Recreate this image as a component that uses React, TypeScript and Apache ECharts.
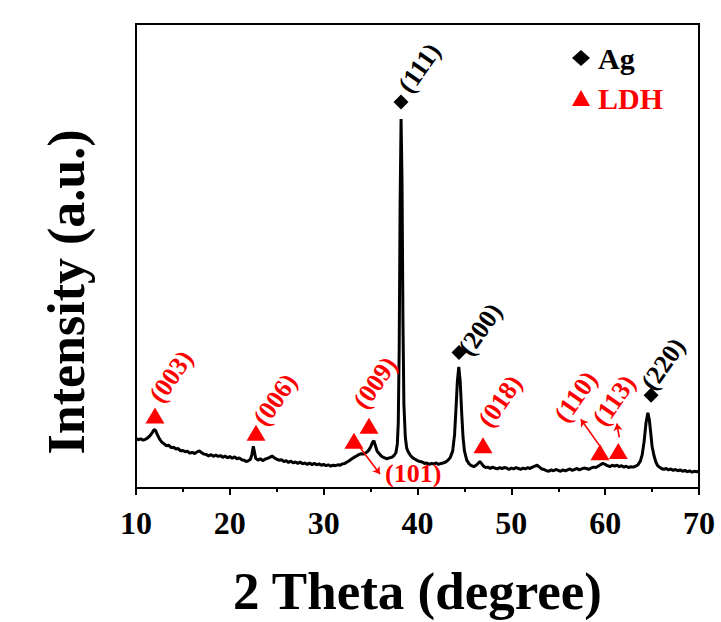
import React, { useEffect, useRef } from "react";
import * as echarts from "echarts";

// XRD pattern: [2theta, intensity (a.u.)]
const xrdPattern: number[][] = [
  [10.0, 10.7], [10.25, 10.4], [10.5, 10.6], [10.75, 10.3], [11.0, 10.5], [11.25, 10.8], [11.5, 11.3],
  [11.75, 12.0], [11.9, 12.5], [12.0, 12.6], [12.1, 12.3], [12.25, 11.6], [12.5, 10.6], [12.75, 9.9],
  [13.0, 9.5], [13.25, 9.1], [13.5, 9.2], [13.75, 8.7], [14.0, 8.8], [14.25, 8.4], [14.5, 8.5],
  [14.75, 8.0], [15.0, 8.1], [15.25, 7.8], [15.5, 7.9], [15.75, 7.5], [16.0, 7.7], [16.25, 7.4],
  [16.5, 7.8], [16.75, 8.0], [17.0, 7.6], [17.25, 7.3], [17.5, 7.2], [17.75, 6.9], [18.0, 7.2],
  [18.25, 6.8], [18.5, 7.1], [18.75, 6.8], [19.0, 7.0], [19.25, 6.6], [19.5, 6.9], [19.75, 6.5],
  [20.0, 6.8], [20.25, 6.4], [20.5, 6.7], [20.75, 6.3], [21.0, 6.5], [21.25, 6.1], [21.5, 6.0],
  [21.75, 5.7], [22.0, 5.9], [22.2, 6.2], [22.35, 7.2], [22.5, 9.0], [22.6, 8.0], [22.75, 6.4],
  [23.0, 6.0], [23.25, 6.3], [23.5, 5.9], [23.75, 6.2], [24.0, 6.4], [24.25, 6.6], [24.5, 6.9],
  [24.75, 6.5], [25.0, 6.2], [25.25, 6.0], [25.5, 6.1], [25.75, 5.7], [26.0, 5.9], [26.25, 5.5],
  [26.5, 5.8], [26.75, 5.4], [27.0, 5.6], [27.25, 5.3], [27.5, 5.6], [27.75, 5.2], [28.0, 5.4],
  [28.25, 5.1], [28.5, 5.4], [28.75, 5.0], [29.0, 5.3], [29.25, 5.0], [29.5, 5.2], [29.75, 4.9],
  [30.0, 5.1], [30.25, 4.8], [30.5, 5.0], [30.75, 4.7], [31.0, 4.9], [31.25, 4.8], [31.5, 5.0],
  [31.75, 4.9], [32.0, 5.2], [32.25, 5.3], [32.5, 5.6], [32.75, 5.9], [33.0, 6.3], [33.25, 6.6],
  [33.5, 6.9], [33.75, 7.2], [34.0, 7.4], [34.25, 7.3], [34.5, 7.6], [34.75, 8.0], [35.0, 8.8],
  [35.2, 9.8], [35.35, 10.2], [35.5, 9.2], [35.7, 7.9], [36.0, 7.2], [36.25, 6.7], [36.5, 6.5],
  [36.75, 6.3], [37.0, 6.5], [37.25, 6.6], [37.5, 7.0], [37.7, 7.6], [37.85, 9.5], [37.95, 14],
  [38.05, 30], [38.15, 62], [38.25, 79.5], [38.35, 66], [38.45, 36], [38.55, 18], [38.7, 11],
  [38.85, 8.6], [39.0, 7.8], [39.25, 7.0], [39.5, 6.5], [39.75, 6.2], [40.0, 5.9], [40.25, 5.7],
  [40.5, 5.6], [40.75, 5.3], [41.0, 5.4], [41.25, 5.1], [41.5, 5.3], [41.75, 5.2], [42.0, 5.4],
  [42.25, 5.1], [42.5, 5.3], [42.75, 5.4], [43.0, 5.6], [43.25, 6.0], [43.5, 6.6], [43.75, 8.0],
  [43.95, 11.5], [44.1, 17], [44.25, 23], [44.4, 26.1], [44.55, 23], [44.7, 16.5], [44.85, 11],
  [45.0, 8.0], [45.25, 6.0], [45.5, 5.2], [45.75, 4.8], [46.0, 4.6], [46.25, 4.9], [46.5, 5.4],
  [46.65, 5.7], [46.85, 5.2], [47.0, 4.8], [47.25, 4.4], [47.5, 4.5], [47.75, 4.2], [48.0, 4.5],
  [48.25, 4.3], [48.5, 4.1], [48.75, 4.4], [49.0, 4.2], [49.25, 4.4], [49.5, 4.3], [49.75, 4.0],
  [50.0, 4.3], [50.25, 4.1], [50.5, 4.4], [50.75, 4.2], [51.0, 4.0], [51.25, 4.3], [51.5, 4.1],
  [51.75, 4.4], [52.0, 4.2], [52.25, 4.5], [52.5, 4.7], [52.75, 4.9], [53.0, 4.5], [53.25, 4.1],
  [53.5, 4.0], [53.75, 3.7], [54.0, 3.6], [54.25, 3.9], [54.5, 3.7], [54.75, 4.0], [55.0, 3.8],
  [55.25, 3.6], [55.5, 3.9], [55.75, 3.7], [56.0, 3.9], [56.25, 4.1], [56.5, 3.8], [56.75, 4.0],
  [57.0, 4.2], [57.25, 3.9], [57.5, 4.1], [57.75, 4.3], [58.0, 4.2], [58.25, 4.0], [58.5, 4.3],
  [58.75, 4.5], [59.0, 4.4], [59.25, 4.7], [59.5, 5.0], [59.75, 5.3], [60.0, 5.1], [60.25, 4.8],
  [60.5, 4.6], [60.75, 4.9], [61.0, 4.7], [61.25, 4.9], [61.5, 4.6], [61.75, 4.8], [62.0, 4.5],
  [62.25, 4.7], [62.5, 4.4], [62.75, 4.6], [63.0, 4.5], [63.25, 4.7], [63.5, 5.0], [63.75, 5.8],
  [63.95, 7.2], [64.15, 10.0], [64.35, 14.0], [64.55, 16.2], [64.7, 14.8], [64.85, 12.0], [65.0, 9.0],
  [65.2, 7.0], [65.4, 5.6], [65.6, 4.8], [65.85, 4.4], [66.0, 4.2], [66.25, 4.0], [66.5, 4.2],
  [66.75, 3.9], [67.0, 4.1], [67.25, 3.8], [67.5, 4.0], [67.75, 3.7], [68.0, 3.9], [68.25, 3.6],
  [68.5, 3.8], [68.75, 3.5], [69.0, 3.7], [69.25, 3.4], [69.5, 3.6], [69.75, 3.5], [70.0, 3.6],
];

// Ag reflections
const agNames = ["(111)", "(200)", "(220)"];
const agPeaks: number[][] = [[38.24, 83.2], [44.42, 29.2], [64.89, 20.0]];

// LDH reflections
const ldhNames = ["(003)", "(006)", "(101)", "(009)", "(018)", "(110)", "(113)"];
const ldhPeaks: number[][] = [
  [12.02, 15.6], [22.79, 11.9], [33.23, 10.2], [34.83, 13.4], [46.98, 9.2], [59.45, 7.7], [61.4, 8.0],
];

// arrows linking crowded labels to their markers: [from, to]
const arrowLinks: number[][][] = [
  [[33.55, 9.6], [36.0, 3.0]],
  [[59.56, 8.7], [57.4, 14.8]],
  [[61.5, 10.9], [61.25, 13.9]],
];

const xTicks = [10, 20, 30, 40, 50, 60, 70];

const SERIF = "'Times New Roman', 'Liberation Serif', serif";
const RED = "#f00";

// label placement: pixel offset of the text's start (left-middle) from its marker, rotation (deg)
const labelStyle: Record<string, { dx: number; dy: number; rot: number }> = {
  "(111)": { dx: 3, dy: -12, rot: 55 },
  "(200)": { dx: 5, dy: 0, rot: 55 },
  "(220)": { dx: -4, dy: -8, rot: 55 },
  "(003)": { dx: 0, dy: -16, rot: 55 },
  "(006)": { dx: 3, dy: -10, rot: 55 },
  "(101)": { dx: 31, dy: 33, rot: 0 },
  "(009)": { dx: -10, dy: -20, rot: 55 },
  "(018)": { dx: 1, dy: -21, rot: 55 },
  "(110)": { dx: -40, dy: -33, rot: 55 },
  "(113)": { dx: -20, dy: -28, rot: 55 },
};

export default function App() {
  const ref = useRef<HTMLDivElement>(null);
  useEffect(() => {
    if (!ref.current) return;
    const chart = echarts.init(ref.current, undefined, { renderer: "svg" });
    const option: any = {
      animation: false,
      backgroundColor: "#fff",
      grid: {
        left: 136, right: 22, top: 24, bottom: 129,
        show: true, borderColor: "#000", borderWidth: 2,
      },
      legend: {
        orient: "vertical",
        left: 567,
        top: 38,
        itemWidth: 18,
        itemHeight: 16,
        itemGap: 10,
        textStyle: { fontFamily: SERIF, fontWeight: "bold", fontSize: 30, padding: [0, 0, 0, 3] },
        data: [
          { name: "Ag", textStyle: { color: "#000" } },
          { name: "LDH", textStyle: { color: RED } },
        ],
      },
      xAxis: {
        type: "value",
        min: xTicks[0],
        max: xTicks[xTicks.length - 1],
        interval: 10,
        name: "2 Theta (degree)",
        nameLocation: "middle",
        nameGap: 76,
        nameTextStyle: { fontFamily: SERIF, fontWeight: "bold", fontSize: 53, color: "#000" },
        axisLine: { lineStyle: { color: "#000", width: 2 } },
        axisTick: { show: true, inside: false, length: 7, lineStyle: { color: "#000", width: 2 } },
        minorTick: { show: true, splitNumber: 2, length: 4, lineStyle: { color: "#000", width: 2 } },
        axisLabel: { fontFamily: SERIF, fontWeight: "bold", fontSize: 32, color: "#000", margin: 19 },
        splitLine: { show: false },
      },
      yAxis: {
        type: "value",
        min: 0,
        max: 100,
        name: "Intensity (a.u.)",
        nameLocation: "middle",
        nameGap: 44,
        nameTextStyle: {
          fontFamily: SERIF, fontWeight: "bold", fontSize: 52, color: "#000",
          padding: [0, 72, 0, 0],
        },
        axisLine: { show: true, lineStyle: { color: "#000", width: 2 } },
        axisTick: { show: false },
        axisLabel: { show: false },
        splitLine: { show: false },
      },
      series: [
        {
          name: "XRD",
          type: "line",
          data: xrdPattern,
          showSymbol: false,
          symbol: "none",
          lineStyle: { color: "#000", width: 3 },
          z: 2,
        },
        {
          name: "Ag",
          type: "scatter",
          data: agPeaks,
          symbol: "diamond",
          symbolSize: [15, 15],
          itemStyle: { color: "#000", opacity: 1 },
          z: 5,
        },
        {
          name: "LDH",
          type: "scatter",
          data: ldhPeaks,
          symbol: "triangle",
          symbolSize: [19, 16],
          itemStyle: { color: RED, opacity: 1 },
          z: 5,
        },
        {
          name: "links",
          type: "lines",
          coordinateSystem: "cartesian2d",
          data: arrowLinks.map((c) => ({ coords: c })),
          symbol: ["none", "arrow"],
          symbolSize: 7,
          lineStyle: { color: RED, width: 1.6, opacity: 1 },
          z: 6,
        },
      ],
    };
    chart.setOption(option);

    const makeLabel = (name: string, pt: number[], color: string) => {
      const [px, py] = chart.convertToPixel({ gridIndex: 0 }, pt) as number[];
      const s = labelStyle[name];
      return {
        type: "text",
        x: px + s.dx,
        y: py + s.dy,
        rotation: (s.rot * Math.PI) / 180,
        z: 10,
        style: {
          text: name,
          fill: color,
          font: `bold 26px ${SERIF}`,
          align: "left",
          verticalAlign: "middle",
        },
      };
    };
    const graphics = [
      ...agNames.map((n, i) => makeLabel(n, agPeaks[i], "#000")),
      ...ldhNames.map((n, i) => makeLabel(n, ldhPeaks[i], RED)),
    ];
    chart.setOption({ graphic: graphics });

    return () => chart.dispose();
  }, []);
  return (
    <div
      ref={ref}
      style={{ position: "absolute", left: 0, top: 0, width: 721, height: 622, background: "#fff" }}
    />
  );
}
